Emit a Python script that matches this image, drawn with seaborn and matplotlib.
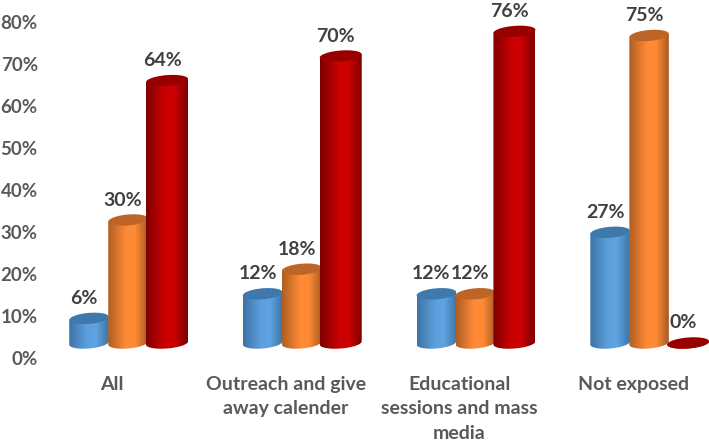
import numpy as np
import pandas as pd
import matplotlib
matplotlib.use("Agg")
import matplotlib.pyplot as plt
from matplotlib.colors import LinearSegmentedColormap
from matplotlib.patches import Polygon
from matplotlib.transforms import ScaledTranslation
import seaborn as sns

# values
categories = ["All", "Outreach and give\naway calender",
              "Educational\nsessions and mass\nmedia", "Not exposed"]
series_names = ["Blue", "Orange", "Red"]
blue_values = [6, 12, 12, 27]
orange_values = [30, 18, 12, 75]
red_values = [64, 70, 76, 0]
axis_ticks = [0, 10, 20, 30, 40, 50, 60, 70, 80]

df = pd.DataFrame({
    "category": categories * 3,
    "series": np.repeat(series_names, 4),
    "value": blue_values + orange_values + red_values,
})

sns.set_theme(style="white")
plt.rcParams["font.family"] = ["Lato", "DejaVu Sans"]

W, H = 709, 442
GROUP_PX = 173.7
VALUE_PX = 4.1
TICK_PX = 4.2
TICK_GREY = "#595959"
LABEL_GREY = "#404040"

fig = plt.figure(figsize=(W / 100, H / 100), dpi=100)
ax = fig.add_axes([60 / W, (H - 358) / H, (W - 60) / W, 358 / H])

palette = {"Blue": "#5B9BD5", "Orange": "#F58634", "Red": "#C00000"}
sns.barplot(data=df, x="category", y="value", hue="series", order=categories,
            hue_order=series_names, palette=palette, width=0.674, gap=0,
            saturation=1, legend=False, ax=ax)

xlim = ((60 - 128) / GROUP_PX, (W - 128) / GROUP_PX)
ylim = (-15 / VALUE_PX, 343 / VALUE_PX)

# dark edge, light centre, dark edge
shades = {
    "Blue": (["#3E74A6", "#5B9FDC", "#5FA3E0", "#3E74A6"], "#3F78AA"),
    "Orange": (["#AE5E22", "#FF8A36", "#FF8A36", "#A85A20"], "#BC6526"),
    "Red": (["#7E0000", "#CC0000", "#CC0000", "#7A0000"], "#980000"),
}
widths = {"Blue": 39.5 / GROUP_PX, "Orange": 39.5 / GROUP_PX, "Red": 42 / GROUP_PX}
ramp = np.linspace(0, 1, 128)[None, :]
ry = 5.5 / VALUE_PX
tilt = 1.6 / VALUE_PX

for i, (name, bars) in enumerate(zip(series_names, ax.containers)):
    stops, lid_colour = shades[name]
    cmap = LinearSegmentedColormap.from_list(
        name, list(zip([0, 0.45, 0.68, 1], stops)))
    half = widths[name] / 2
    for bar in bars:
        cx = bar.get_x() + bar.get_width() / 2
        top = bar.get_height()
        bar.set_visible(False)

        # front of the cylinder, with the curved foot
        t = np.linspace(0, np.pi, 40)
        foot_x = cx + half * np.cos(t)
        foot_y = -ry * np.sin(t) + tilt * np.cos(t)
        body = np.vstack([
            [[cx - half, top - tilt], [cx + half, top + tilt]],
            np.column_stack([foot_x, foot_y]),
        ])
        z = 3 + i
        clip = Polygon(body, closed=True, transform=ax.transData)
        im = ax.imshow(ramp, cmap=cmap, aspect="auto", zorder=z,
                       extent=(cx - half, cx + half, -ry - tilt, top + tilt + 0.01))
        im.set_clip_path(clip)

        # lid
        t = np.linspace(0, 2 * np.pi, 80)
        lid = np.column_stack([cx + half * np.cos(t),
                               top + ry * np.sin(t) + tilt * np.cos(t)])
        ax.add_patch(Polygon(lid, closed=True, facecolor=lid_colour,
                             edgecolor="none", zorder=z + 0.1))

        ax.annotate(f"{top:.0f}%", (cx, top), xytext=(-5 * 0.72, 20 * 0.72),
                    textcoords="offset points", ha="center", va="center",
                    fontsize=14, fontweight="bold", color=LABEL_GREY, zorder=10)

ax.set_xlim(xlim)
ax.set_ylim(ylim)
ax.set_xlabel("")
ax.set_ylabel("")
ax.tick_params(axis="x", length=0, pad=13, labelsize=14, labelcolor=TICK_GREY)
for label in ax.get_xticklabels():
    label.set_fontweight("bold")
    label.set_linespacing(1.52)
    label.set_va("top")
    label.set_transform(label.get_transform()
                        + ScaledTranslation(-16 / 100, 0, fig.dpi_scale_trans))
ax.set_yticks([])
sns.despine(ax=ax, left=True, bottom=True)

# printed scale sits a little lower than the bars' foot
scale = ax.twinx()
scale.set_ylim(0, 358 / TICK_PX)
scale.set_yticks(axis_ticks, [f"{v}%" for v in axis_ticks])
scale.yaxis.tick_left()
scale.tick_params(axis="y", length=0, pad=16, labelsize=13.5, labelcolor=TICK_GREY)
for label in scale.get_yticklabels():
    label.set_fontweight("bold")
scale.grid(False)
ax.grid(False)
sns.despine(ax=scale, left=True, bottom=True, right=True)
scale.patch.set_visible(False)

fig.savefig("out.png", dpi=100)
